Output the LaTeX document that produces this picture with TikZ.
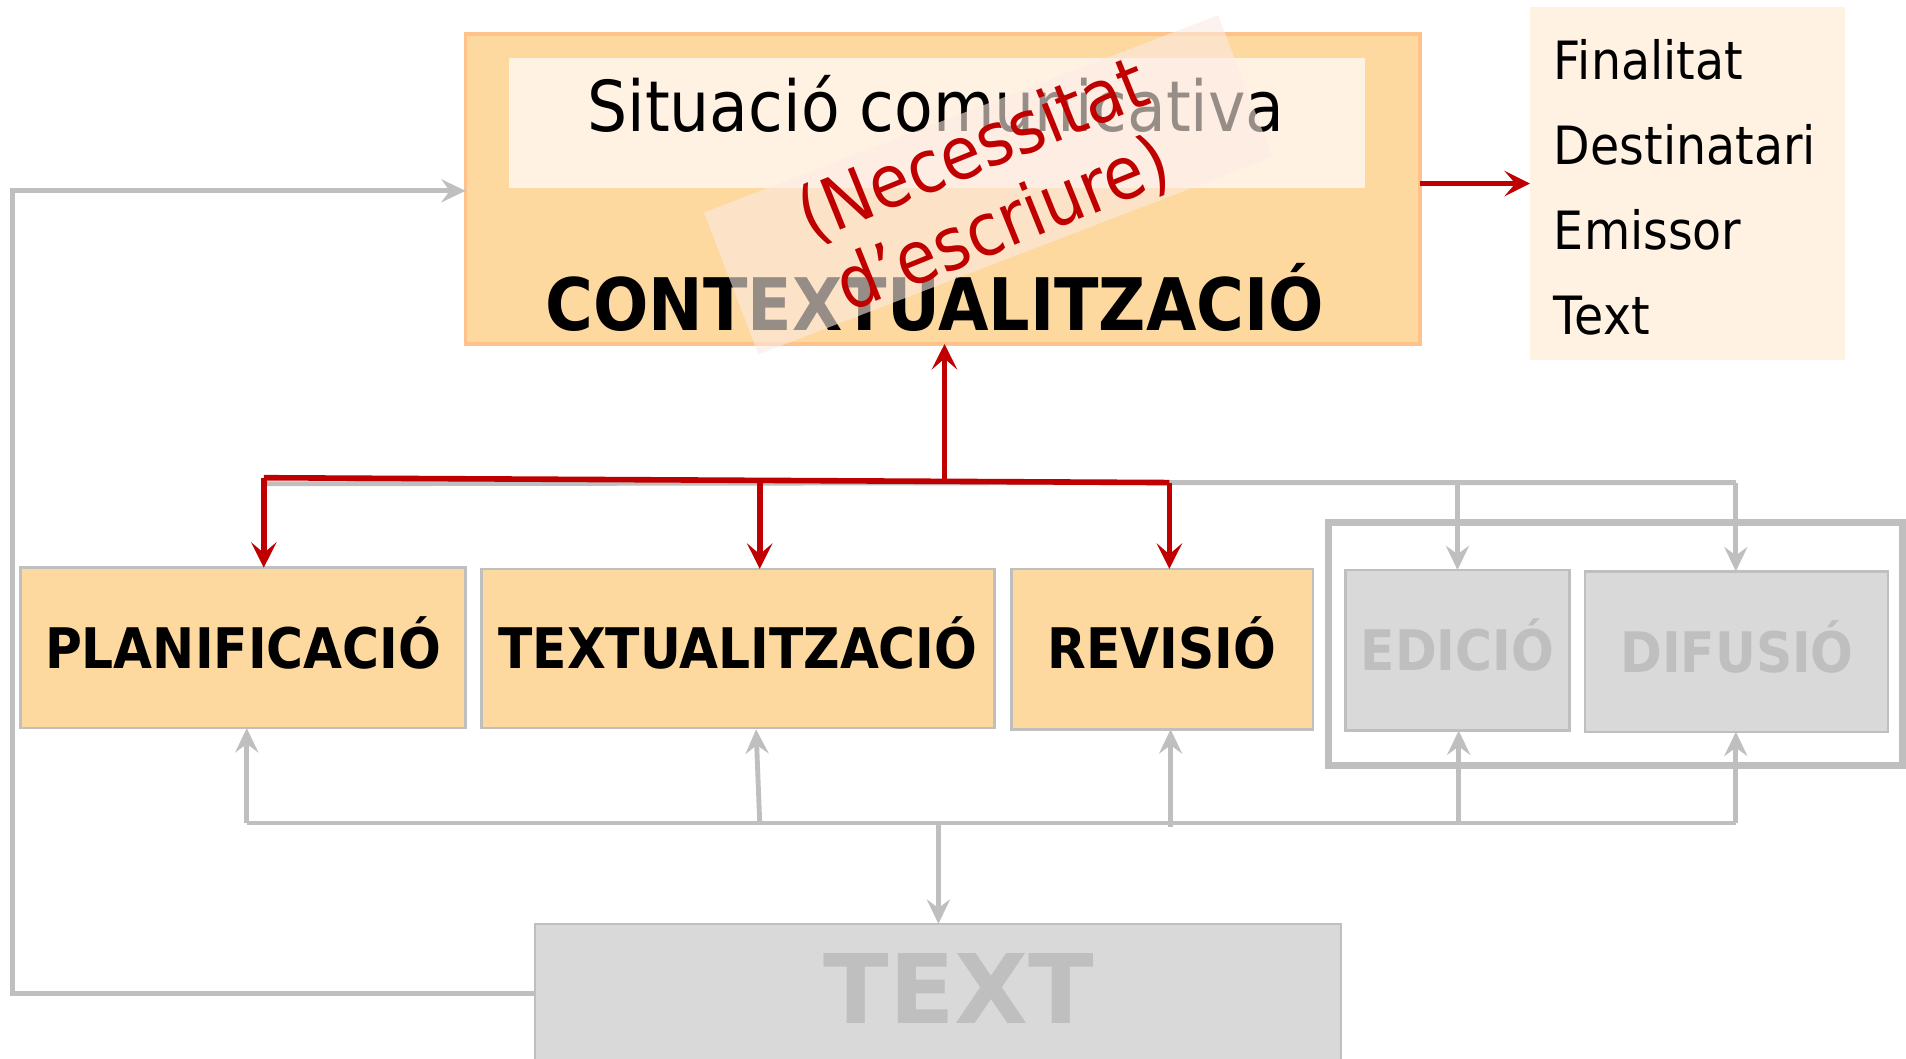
\documentclass[tikz,border=0pt]{standalone}
\usepackage{fontspec}
\setmainfont{DejaVu Sans}[FakeStretch=0.9]
\newfontfamily\widefont{DejaVu Sans}
\usetikzlibrary{arrows.meta,calc}
\definecolor{myred}{HTML}{C00000}
\definecolor{gr}{HTML}{BFBFBF}
\definecolor{orfill}{HTML}{FDD9A0}
\definecolor{orborder}{HTML}{FFC28A}
\definecolor{cream}{HTML}{FFF2E3}
\definecolor{lgray}{HTML}{D9D9D9}
\definecolor{veil}{HTML}{FCEBE2}
\tikzset{
  box/.style={draw=gr, line width=1pt, fill=orfill, inner sep=0pt, outer sep=0pt},
  graybox/.style={draw=gr, line width=1pt, fill=lgray, inner sep=0pt, outer sep=0pt},
  lbl/.style={inner sep=0pt, anchor=base, font=\bfseries\fontsize{23pt}{26pt}\selectfont},
  redln/.style={draw=myred, line width=2.3pt},
  grayln/.style={draw=gr, line width=2pt},
  redtip/.style={-{Stealth[length=10.5pt,width=10.5pt,inset=4.5pt]}},
  graytip/.style={-{Stealth[length=10pt,width=9.5pt,inset=3.5pt]}},
}
\begin{document}
\begin{tikzpicture}[x=0.5pt,y=-0.5pt]
\useasboundingbox (0,0) rectangle (1568,871);
% top context box
\node[draw=orborder, line width=1.5pt, fill=orfill, inner sep=0pt, outer sep=0pt,
      minimum width=392.5pt, minimum height=127.5pt] (ctx) at (775.5,155.5) {};
\node[fill=cream, inner sep=0pt, minimum width=352pt, minimum height=53.5pt] (sit) at (771,101.5) {};
\node[inner sep=0pt, anchor=base, font=\fontsize{28.9pt}{32pt}\selectfont] (sittxt) at (770,108) {Situació comunicativa};
\node[inner sep=0pt, anchor=base, font=\bfseries\fontsize{29.8pt}{32pt}\selectfont] (ctxtxt) at (769,272) {CONTEXTUALITZACIÓ};
% veil
\node[fill=veil, fill opacity=0.6, inner sep=0pt, rotate=21,
      minimum width=226.5pt, minimum height=62.5pt] (veilbox) at (813,152) {};
\node[text=myred, inner sep=0pt, rotate=22, align=center,
      font=\fontsize{30pt}{33pt}\selectfont] (need) at (813,155) {(Necessitat\\d'escriure)};
% right list
\node[fill=cream, inner sep=0pt, minimum width=129.5pt, minimum height=145pt] (list) at (1388.5,151) {};
\node[inner sep=0pt, anchor=base west, font=\fontsize{21.7pt}{24pt}\selectfont] (l1) at (1278,65) {Finalitat};
\node[inner sep=0pt, anchor=base west, font=\fontsize{21.7pt}{24pt}\selectfont] (l2) at (1278,135) {Destinatari};
\node[inner sep=0pt, anchor=base west, font=\fontsize{21.7pt}{24pt}\selectfont] (l3) at (1278,205) {Emissor};
\node[inner sep=0pt, anchor=base west, font=\fontsize{21.7pt}{24pt}\selectfont] (l4) at (1278,275) {Text};
\draw[redln, redtip] (ctx.east |- list.west) -- (list.west);
% process boxes
\node[box, minimum width=183pt, minimum height=66pt] (plan) at (200,533) {};
\node[box, minimum width=211pt, minimum height=65.5pt] (txtz) at (607,533.5) {};
\node[box, minimum width=124pt, minimum height=66pt] (rev) at (956,534) {};
\node[draw=gr, line width=2.8pt, inner sep=0pt, minimum width=236pt, minimum height=100pt] (frame) at (1329,530) {};
\node[graybox, minimum width=92pt, minimum height=66pt] (edi) at (1199,535) {};
\node[graybox, minimum width=124.5pt, minimum height=66pt] (dif) at (1428.5,536) {};
\node[lbl] (plant) at (200,550) {PLANIFICACIÓ};
\node[lbl] (txtzt) at (607,550) {TEXTUALITZACIÓ};
\node[lbl] (revt) at (956,550) {REVISIÓ};
\node[lbl, text=gr] (edit) at (1199,552) {EDICIÓ};
\node[lbl, text=gr] (dift) at (1429,553) {DIFUSIÓ};
% TEXT box
\node[graybox, minimum width=331.5pt, minimum height=57pt] (txt) at (771.5,817) {};
\node[inner sep=0pt, anchor=base, text=gr, font=\widefont\bfseries\fontsize{39.5pt}{42pt}\selectfont] (txtt) at (789,842) {TEXT};
% junction coordinates
\coordinate (jc) at (777,395);
\coordinate (jP) at (217,393);
\coordinate (jT) at (625,396);
\coordinate (jR) at (962,397);
\coordinate (jE) at (1199,396.5);
\coordinate (jD) at (1428,397);
\coordinate (bP) at (203,677);
\coordinate (bT) at (625,677);
\coordinate (bR) at (963,680);
\coordinate (bE) at (1200,677);
\coordinate (bD) at (1428,677);
\coordinate (bX) at (772,677);
\coordinate (fb1) at (10,817);
\coordinate (fb2) at (10,157);
% top connectors
\draw[grayln] (217,398) -- (jR) -- (jD);
\draw[grayln, graytip] (jE) -- (jE |- edi.north);
\draw[grayln, graytip] (jD) -- (jD |- dif.north);
\draw[redln] (jP) -- (jR);
\draw[redln, redtip] (jc) -- (jc |- ctx.south);
\draw[redln, redtip] (jP) -- (jP |- plan.north);
\draw[redln, redtip] (jT) -- (jT |- txtz.north);
\draw[redln, redtip] (jR) -- (jR |- rev.north);
% bottom connectors
\draw[grayln] (bP) -- (bD);
\draw[grayln, graytip] (bP) -- (bP |- plan.south);
\draw[grayln, graytip] (bT) -- (622,600);
\draw[grayln, graytip] (bR) -- (bR |- rev.south);
\draw[grayln, graytip] (bE) -- (bE |- edi.south);
\draw[grayln, graytip] (bD) -- (bD |- dif.south);
\draw[grayln, graytip] (bX) -- (bX |- txt.north);
% feedback
\draw[grayln, graytip] (txt.west) -- (fb1) -- (fb2) -- (fb2 -| ctx.west);
\end{tikzpicture}
\end{document}
